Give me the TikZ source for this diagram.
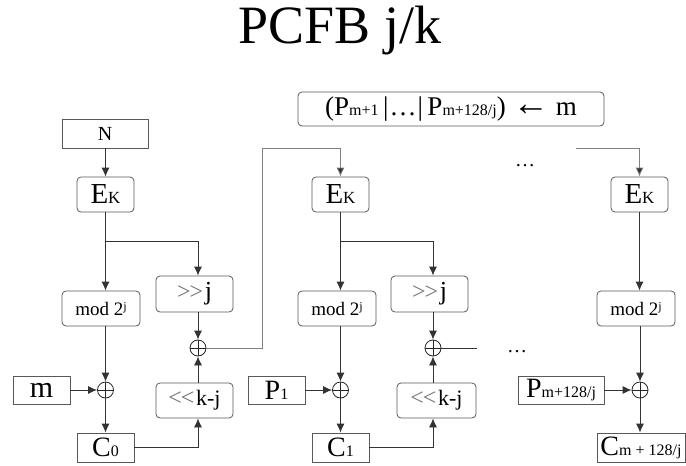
\documentclass[tikz,border=0pt]{standalone}
\usepackage{fontspec}
\setmainfont{Liberation Serif}
\usetikzlibrary{arrows.meta}
\newcommand{\fs}[1]{\fontsize{#1}{#1}\selectfont}
\newcommand{\shr}{{\color{black!55}\fs{24}>\kern-1pt>}}
\newcommand{\shl}{{\color{black!55}\fs{24}<\kern-1pt<}}
\begin{document}
\begin{tikzpicture}[x=1pt,y=-1pt,
  box/.style={draw=black!65, line width=0.8pt, inner sep=0pt, anchor=center},
  rbox/.style={box, rounded corners=4pt},
  xo/.style={circle, draw=black!85, line width=0.8pt, minimum size=16pt, inner sep=0pt,
    path picture={\draw[black!85, line width=0.8pt]
      (path picture bounding box.north) -- (path picture bounding box.south)
      (path picture bounding box.west) -- (path picture bounding box.east);}},
  ln/.style={draw=black!80, line width=0.8pt},
  arr/.style={ln, -{Latex[length=9pt,width=8pt]}},
  fbarr/.style={draw=black!50, line width=0.8pt, -{Latex[length=9pt,width=8pt,fill=black!80]}},
  fb/.style={draw=black!50, line width=0.8pt},
  txt/.style={inner sep=0pt}
]
\useasboundingbox (0,0) rectangle (686,466);

% title
\node[txt, anchor=base] (title) at (340,43) {\fs{54}PCFB j/k};

% top box
\node[rbox, minimum width=306pt, minimum height=34pt] (top) at (451,109)
  {\fs{27}(P\fs{16}m+1\fs{27}\,|\kern1pt…\kern1pt|\,P\fs{16}m+128/j\fs{27}) \scalebox{1.35}{←} m};

% column 1
\node[box, minimum width=86pt, minimum height=29pt] (N) at (105,133.5) {\fs{20}N};
\node[rbox, minimum width=57pt, minimum height=35pt] (ek1) at (105.5,194.5) {\fs{29}E\fs{17}K};
\node[rbox, minimum width=78pt, minimum height=35pt] (mod1) at (101,308.5) {\fs{19}mod 2\raisebox{5pt}{\fs{12}j}};
\node[rbox, minimum width=77pt, minimum height=36pt] (shr1) at (194.5,294) {\shr\,\fs{26}j};
\node[rbox, minimum width=77pt, minimum height=35pt] (shl1) at (194.5,400.5) {\shl\,\fs{22}k-j};
\node[box, minimum width=57pt, minimum height=28pt] (m) at (41.5,390) {\fs{30}m};
\node[box, minimum width=57pt, minimum height=29pt] (C0) at (105.5,447.5) {\fs{28}C\fs{16}0};
\node[xo] (xor1) at (198,348) {};
\node[xo] (xorL1) at (105.5,390) {};

% column 2
\node[rbox, minimum width=57pt, minimum height=35pt] (ek2) at (340.5,194.5) {\fs{29}E\fs{17}K};
\node[rbox, minimum width=78pt, minimum height=35pt] (mod2) at (337,308.5) {\fs{19}mod 2\raisebox{5pt}{\fs{12}j}};
\node[rbox, minimum width=77pt, minimum height=36pt] (shr2) at (429.5,294) {\shr\,\fs{26}j};
\node[rbox, minimum width=79pt, minimum height=35pt] (shl2) at (436.5,400.5) {\shl\,\fs{22}k-j};
\node[box, minimum width=57pt, minimum height=28pt] (P1) at (276.5,390) {\fs{28}P\fs{16}1};
\node[box, minimum width=57pt, minimum height=29pt] (C1) at (340.5,447.5) {\fs{28}C\fs{16}1};
\node[xo] (xor2) at (433,348) {};
\node[xo] (xorL2) at (340.5,390) {};

% column 3
\node[rbox, minimum width=57pt, minimum height=35pt] (ek3) at (639.5,194.5) {\fs{29}E\fs{17}K};
\node[rbox, minimum width=78pt, minimum height=35pt] (mod3) at (636,308.5) {\fs{19}mod 2\raisebox{5pt}{\fs{12}j}};
\node[box, minimum width=86pt, minimum height=28pt] (P3) at (561,390) {\fs{28}P\fs{16}m+128/j};
\node[box, minimum width=88pt, minimum height=29pt] (C3) at (641,447.5) {\fs{28}C\fs{16}m + 128/j};
\node[xo] (xorL3) at (640,390) {};

% dots
\node[txt, anchor=base] (dots1) at (525,166) {\fs{20}…};
\node[txt, anchor=base] (dots2) at (517,352) {\fs{20}…};

% coordinates
\coordinate (br1) at (105.5,241);
\coordinate (br2) at (340.5,241);
\coordinate (fb1) at (262,148);
\coordinate (fb2) at (576,148);
\coordinate (d2) at (477,348);

% connectors column 1
\draw[arr] (N.south -| ek1.north) -- (ek1.north);
\draw[arr] (ek1.south) -- (ek1.south |- mod1.north);
\draw[arr] (br1) -| (xor1 |- shr1.north);
\draw[arr] (shr1.south -| xor1) -- (xor1.north);
\draw[arr] (shl1.north -| xor1) -- (xor1.south);
\draw[arr] (C0.east) -| (xor1 |- shl1.south);
\draw[arr] (mod1.south -| xorL1) -- (xorL1.north);
\draw[arr] (m.east) -- (xorL1.west);
\draw[arr] (xorL1.south) -- (C0.north);
\draw[fbarr] (xor1.east) -| (fb1) -| (ek2.north);

% connectors column 2
\draw[arr] (ek2.south) -- (ek2.south |- mod2.north);
\draw[arr] (br2) -| (xor2 |- shr2.north);
\draw[arr] (shr2.south -| xor2) -- (xor2.north);
\draw[arr] (shl2.north -| xor2) -- (xor2.south);
\draw[arr] (C1.east) -| (xor2 |- shl2.south);
\draw[arr] (mod2.south -| xorL2) -- (xorL2.north);
\draw[arr] (P1.east) -- (xorL2.west);
\draw[arr] (xorL2.south) -- (C1.north);
\draw[ln] (xor2.east) -- (d2);

% connectors column 3
\draw[fbarr] (fb2) -| (ek3.north);
\draw[arr] (ek3.south) -- (ek3.south |- mod3.north);
\draw[arr] (mod3.south -| xorL3) -- (xorL3.north);
\draw[arr] (P3.east) -- (xorL3.west);
\draw[arr] (xorL3.south) -- (xorL3 |- C3.north);
\end{tikzpicture}
\end{document}
